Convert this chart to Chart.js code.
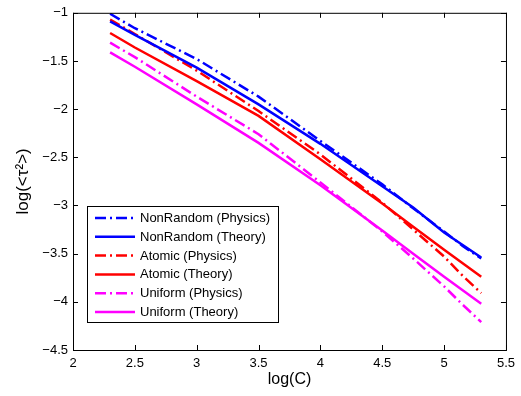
<!DOCTYPE html>
<html>
<head>
<meta charset="utf-8">
<script src="https://cdn.jsdelivr.net/npm/chart.js@4"></script>
<style>
  html, body { margin: 0; padding: 0; background: #fff; }
  #wrap { width: 521px; height: 396px; }
</style>
</head>
<body>
<div id="wrap"><canvas id="c" width="521" height="396"></canvas></div>
<script>
// log(C) values where each curve was sampled
const logC = [2.3, 2.5, 3, 3.5, 4, 4.5, 4.75, 5, 5.15, 5.3];

const nonRandomPhysics = [-1.01, -1.16, -1.48, -1.87, -2.33, -2.78, -3.03, -3.27, -3.42, -3.55];
const nonRandomTheory  = [-1.09, -1.23, -1.57, -1.95, -2.36, -2.80, -3.02, -3.28, -3.41, -3.54];
const atomicPhysics    = [-1.07, -1.22, -1.60, -2.02, -2.47, -2.97, -3.25, -3.53, -3.73, -3.91];
const atomicTheory     = [-1.21, -1.36, -1.71, -2.07, -2.52, -2.98, -3.22, -3.46, -3.60, -3.74];
const uniformPhysics   = [-1.31, -1.46, -1.87, -2.26, -2.76, -3.27, -3.55, -3.84, -4.03, -4.21];
const uniformTheory    = [-1.41, -1.56, -1.95, -2.35, -2.79, -3.26, -3.50, -3.74, -3.88, -4.02];

const seriesLabels = [
    'NonRandom (Physics)', 'NonRandom (Theory)',
    'Atomic (Physics)', 'Atomic (Theory)',
    'Uniform (Physics)', 'Uniform (Theory)'
];
const seriesValues = [nonRandomPhysics, nonRandomTheory, atomicPhysics, atomicTheory, uniformPhysics, uniformTheory];
const seriesColors = ['#0000ff', '#0000ff', '#ff0000', '#ff0000', '#ff00ff', '#ff00ff'];

const xTicks = [2, 2.5, 3, 3.5, 4, 4.5, 5, 5.5];
const yTicks = [-4.5, -4, -3.5, -3, -2.5, -2, -1.5, -1];

const dashDot = [11, 4, 2, 4];
const FONT = 'Helvetica, "Liberation Sans", Arial, sans-serif';

function fmt(v) {
    return String(v).replace('-', '\u2212');
}

const datasets = seriesValues.map((vals, i) => ({
    label: seriesLabels[i],
    data: vals.map((y, k) => ({ x: logC[k], y: y })),
    borderColor: seriesColors[i],
    backgroundColor: seriesColors[i],
    borderWidth: 2.5,
    borderDash: i % 2 === 0 ? dashDot : [],
    pointRadius: 0,
    showLine: true,
    fill: false,
    tension: 0
}));

// matlab style box with inward ticks on all four sides
const boxPlugin = {
    id: 'box',
    afterDatasetsDraw(chart) {
        const ctx = chart.ctx;
        const a = chart.chartArea;
        const xs = chart.scales.x, ys = chart.scales.y;
        ctx.save();
        ctx.strokeStyle = '#000';
        ctx.lineWidth = 1;
        ctx.strokeRect(a.left + 0.5, a.top + 0.5, a.right - a.left, a.bottom - a.top);
        ctx.beginPath();
        xTicks.forEach(v => {
            const px = Math.round(xs.getPixelForValue(v)) + 0.5;
            ctx.moveTo(px, a.bottom); ctx.lineTo(px, a.bottom - 5);
            ctx.moveTo(px, a.top); ctx.lineTo(px, a.top + 5);
        });
        yTicks.forEach(v => {
            const py = Math.round(ys.getPixelForValue(v)) + 0.5;
            ctx.moveTo(a.left, py); ctx.lineTo(a.left + 5, py);
            ctx.moveTo(a.right, py); ctx.lineTo(a.right - 5, py);
        });
        ctx.stroke();
        ctx.restore();
    }
};

// legend box inside the axes, lower left
const legendPlugin = {
    id: 'boxLegend',
    afterDatasetsDraw(chart) {
        const ctx = chart.ctx;
        const left = 87, top = 206, w = 191, h = 116;
        ctx.save();
        ctx.fillStyle = '#fff';
        ctx.fillRect(left, top, w, h);
        ctx.strokeStyle = '#000';
        ctx.lineWidth = 1;
        ctx.strokeRect(left + 0.5, top + 0.5, w, h);
        ctx.font = '13px ' + FONT;
        ctx.textBaseline = 'middle';
        chart.data.datasets.forEach((ds, i) => {
            const y = top + 12 + i * 18.8;
            ctx.beginPath();
            ctx.strokeStyle = ds.borderColor;
            ctx.lineWidth = 2.5;
            ctx.setLineDash(ds.borderDash);
            ctx.moveTo(95, y); ctx.lineTo(135, y);
            ctx.stroke();
            ctx.setLineDash([]);
            ctx.fillStyle = '#000';
            ctx.fillText(ds.label, 140, y + 0.5);
        });
        ctx.restore();
    }
};

new Chart(document.getElementById('c'), {
    type: 'scatter',
    data: { datasets: datasets },
    options: {
        responsive: false,
        animation: false,
        layout: { padding: { top: 6, right: 12, left: 0, bottom: 0 } },
        plugins: { legend: { display: false }, tooltip: { enabled: false } },
        scales: {
            x: {
                type: 'linear',
                min: 2, max: 5.5,
                afterFit(s) { s.height = 46; },
                afterBuildTicks(s) { s.ticks = xTicks.map(v => ({ value: v })); },
                grid: { display: false, drawTicks: false },
                border: { display: false },
                ticks: {
                    autoSkip: false, maxRotation: 0, padding: 6,
                    color: '#000', font: { family: FONT, size: 13 },
                    callback: v => fmt(v)
                },
                title: {
                    display: true, text: 'log(C)', color: '#000',
                    font: { family: FONT, size: 16 }, padding: { top: 0, bottom: 7 }
                }
            },
            y: {
                type: 'linear',
                min: -4.5, max: -1,
                afterFit(s) { s.width = 73; },
                afterBuildTicks(s) { s.ticks = yTicks.map(v => ({ value: v })); },
                grid: { display: false, drawTicks: false },
                border: { display: false },
                ticks: {
                    autoSkip: false, padding: 5,
                    color: '#000', font: { family: FONT, size: 13 },
                    callback: v => fmt(v)
                },
                title: {
                    display: true, text: 'log(<τ\u00b2>)', color: '#000',
                    font: { family: FONT, size: 17 }, padding: { top: 13, bottom: 0 }
                }
            }
        }
    },
    plugins: [boxPlugin, legendPlugin]
});
</script>
</body>
</html>
